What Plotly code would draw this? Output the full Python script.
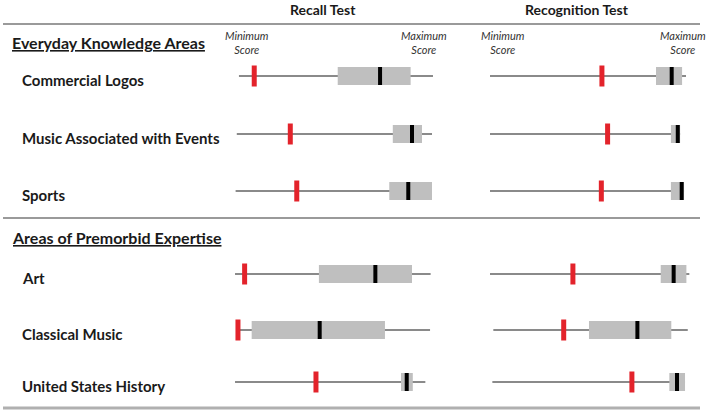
import plotly.graph_objects as go

# ---------------- data ----------------
sections = ["Everyday Knowledge Areas", "Areas of Premorbid Expertise"]
categories = ["Commercial Logos", "Music Associated with Events", "Sports",
              "Art", "Classical Music", "United States History"]
panel_titles = ["Recall Test", "Recognition Test"]
end_labels = ["Minimum<br>Score", "Maximum<br>Score"]

# score scale shown as % of maximum score (line = score range drawn per row)
recall_low = [1.5, 0.4, -0.2, -0.5, 0.4, -0.5]
recall_high = [100.5, 100.0, 100.0, 99.3, 99.0, 96.6]
recall_patient = [9.3, 27.7, 31.0, 4.4, 1.0, 40.8]
recall_q1 = [51.9, 80.0, 78.2, 42.3, 8.0, 84.2]
recall_q3 = [89.1, 94.9, 100.0, 89.8, 76.0, 90.2]
recall_median = [73.5, 89.8, 87.9, 71.1, 42.7, 87.1]

recog_low = [0.0, 0.0, 0.0, 0.0, 1.7, 1.2]
recog_high = [100.0, 97.0, 99.0, 101.7, 100.9, 99.5]
recog_patient = [57.1, 60.0, 56.8, 42.3, 37.6, 72.4]
recog_q1 = [84.7, 92.3, 92.3, 87.1, 50.5, 91.5]
recog_q3 = [98.0, 97.0, 99.0, 100.2, 92.5, 99.5]
recog_median = [92.7, 95.8, 97.8, 93.7, 75.2, 95.4]

# ---------------- layout constants ----------------
W, H = 708, 412
row_y = [76, 134, 191, 274, 330, 382]       # pixel rows (y axis is in px)
px_per_unit = 1.96
origin_px = [236, 490]                      # where score 0 sits for each panel
BOX_H, MED_H, PAT_H = 18, 18, 21
FONT = "Lato"

GRAY_LINE = "#8a8a8a"
BOX_COL = "#bfbfbf"
RED = "#e3232b"

fig = go.Figure()


def vsegs(xs, ys, h):
    X, Y = [], []
    for x, y in zip(xs, ys):
        X += [x, x, None]
        Y += [y - h / 2, y + h / 2, None]
    return X, Y


panels = [
    ("x", recall_low, recall_high, recall_patient, recall_q1, recall_q3, recall_median),
    ("x2", recog_low, recog_high, recog_patient, recog_q1, recog_q3, recog_median),
]

for xa, lo, hi, pat, q1, q3, med in panels:
    # range lines
    X, Y = [], []
    for a, b, y in zip(lo, hi, row_y):
        X += [a, b, None]
        Y += [y, y, None]
    fig.add_trace(go.Scatter(x=X, y=Y, mode="lines", xaxis=xa, yaxis="y",
                             line=dict(color=GRAY_LINE, width=2),
                             hoverinfo="skip", showlegend=False))
    # interquartile boxes
    X, Y = [], []
    for a, b, y in zip(q1, q3, row_y):
        X += [a, b, b, a, a, None]
        Y += [y - BOX_H / 2, y - BOX_H / 2, y + BOX_H / 2, y + BOX_H / 2, y - BOX_H / 2, None]
    fig.add_trace(go.Scatter(x=X, y=Y, mode="lines", fill="toself", fillcolor=BOX_COL,
                             xaxis=xa, yaxis="y", line=dict(width=0, color=BOX_COL),
                             hoverinfo="skip", showlegend=False))
    # medians
    X, Y = vsegs(med, row_y, MED_H)
    fig.add_trace(go.Scatter(x=X, y=Y, mode="lines", xaxis=xa, yaxis="y",
                             line=dict(color="black", width=4),
                             hoverinfo="skip", showlegend=False))
    # patient scores
    X, Y = vsegs(pat, row_y, PAT_H)
    fig.add_trace(go.Scatter(x=X, y=Y, mode="lines", xaxis=xa, yaxis="y",
                             line=dict(color=RED, width=5),
                             hoverinfo="skip", showlegend=False))

ax_common = dict(visible=False, showgrid=False, zeroline=False, fixedrange=True)
fig.update_layout(
    width=W, height=H, autosize=False,
    margin=dict(l=0, r=0, t=0, b=0),
    paper_bgcolor="white", plot_bgcolor="white",
    xaxis=dict(domain=[0, 1], anchor="y",
               range=[-origin_px[0] / px_per_unit, (W - origin_px[0]) / px_per_unit],
               **ax_common),
    xaxis2=dict(overlaying="x", anchor="y",
                range=[-origin_px[1] / px_per_unit, (W - origin_px[1]) / px_per_unit],
                **ax_common),
    yaxis=dict(domain=[0, 1], range=[H, 0], **ax_common),
    showlegend=False,
)


def px(x):
    return x / W


def py(y):
    return 1 - y / H


ann = []
# panel titles
for t, cx, cy in zip(panel_titles, [323, 577], [10, 10]):
    ann.append(dict(text="<b>" + t + "</b>", x=px(cx), y=py(cy), xref="paper", yref="paper",
                    xanchor="center", yanchor="middle", showarrow=False,
                    font=dict(family=FONT, size=14, color="#1a1a1a")))
# min / max score labels
for cx, lab in zip([247, 424, 503, 683], end_labels * 2):
    ann.append(dict(text="<i>" + lab + "</i>", x=px(cx), y=py(43), xref="paper", yref="paper",
                    xanchor="center", yanchor="middle", showarrow=False,
                    font=dict(family=FONT, size=11, color="#333333")))
# section headers
for s, sy in zip(sections, [43, 237]):
    ann.append(dict(text="<b><u>" + s + "</u></b>", x=px(10), y=py(sy), xref="paper", yref="paper",
                    xanchor="left", yanchor="middle", showarrow=False,
                    font=dict(family=FONT, size=16, color="#1a1a1a")))
# row labels
for c, ry in zip(categories, row_y):
    ann.append(dict(text="<b>" + c + "</b>", x=px(20), y=py(ry + 4), xref="paper", yref="paper",
                    xanchor="left", yanchor="middle", showarrow=False,
                    font=dict(family=FONT, size=15, color="#1a1a1a")))
fig.update_layout(annotations=ann)

# horizontal rules
for yy, wd, col in [(24, 2, "#9a9a9a"), (218, 2, "#9a9a9a"), (408, 3, "#b0b0b0")]:
    fig.add_shape(type="line", xref="paper", yref="y", x0=px(3), x1=px(700), y0=yy, y1=yy,
                  line=dict(color=col, width=wd))

fig.write_html("out.html", config={"displayModeBar": False},
               post_script="document.body.style.margin='0px';document.body.style.overflow='hidden';")
